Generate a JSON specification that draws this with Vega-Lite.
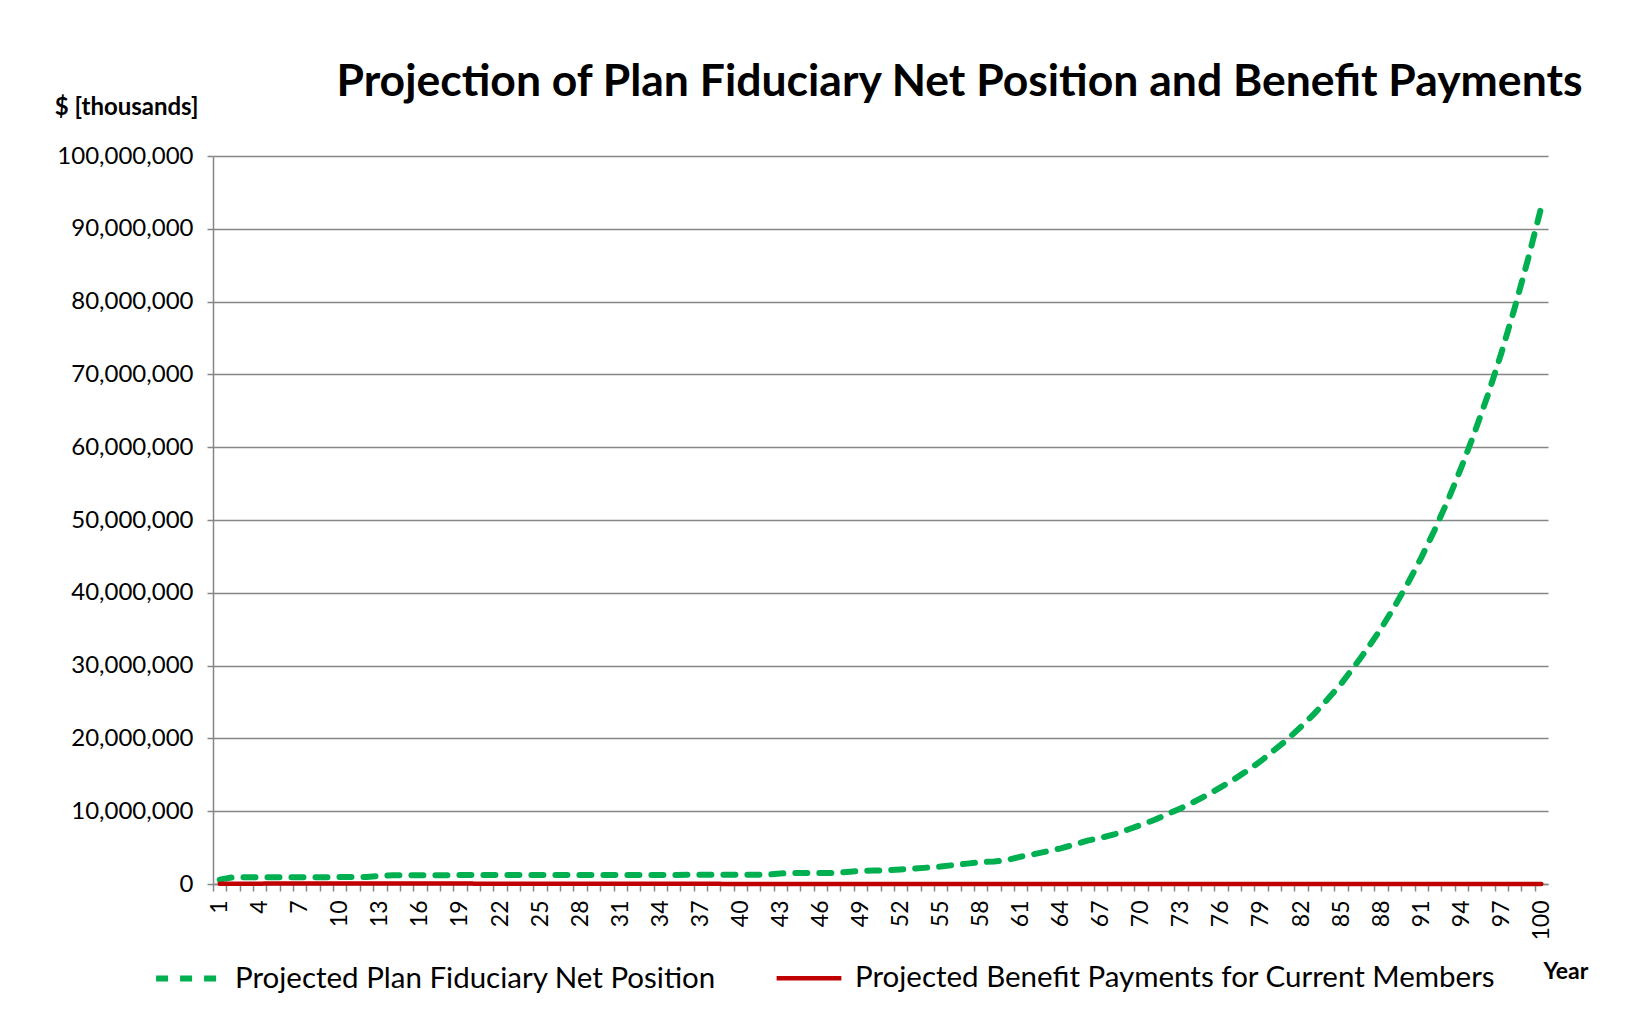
{
  "$schema": "https://vega.github.io/schema/vega-lite/v6.json",
  "width": 1335,
  "height": 728,
  "autosize": "none",
  "padding": {"left": 213, "top": 156, "right": 83, "bottom": 139},
  "background": "white",
  "title": {
    "text": "Projection of Plan Fiduciary Net Position and Benefit Payments",
    "font": "Lato", "fontSize": 44.5, "fontWeight": "bold", "color": "black",
    "anchor": "middle", "dx": 79, "baseline": "alphabetic", "offset": -45
  },
  "data": {"values": [
    {"Year":1,"net":600000,"ben":45000},{"Year":2,"net":920000,"ben":47000},{"Year":3,"net":925000,"ben":49000},{"Year":4,"net":930000,"ben":51000},{"Year":5,"net":932000,"ben":53000},
    {"Year":6,"net":935000,"ben":54000},{"Year":7,"net":938000,"ben":55000},{"Year":8,"net":940000,"ben":56000},{"Year":9,"net":943000,"ben":57000},{"Year":10,"net":945000,"ben":57500},
    {"Year":11,"net":948000,"ben":58000},{"Year":12,"net":950000,"ben":58000},{"Year":13,"net":1100000,"ben":58000},{"Year":14,"net":1210000,"ben":57500},{"Year":15,"net":1212000,"ben":57000},
    {"Year":16,"net":1214000,"ben":56000},{"Year":17,"net":1216000,"ben":55000},{"Year":18,"net":1218000,"ben":54000},{"Year":19,"net":1220000,"ben":53000},{"Year":20,"net":1222000,"ben":51500},
    {"Year":21,"net":1224000,"ben":50000},{"Year":22,"net":1226000,"ben":48500},{"Year":23,"net":1228000,"ben":47000},{"Year":24,"net":1230000,"ben":45000},{"Year":25,"net":1232000,"ben":43000},
    {"Year":26,"net":1234000,"ben":41000},{"Year":27,"net":1236000,"ben":39000},{"Year":28,"net":1238000,"ben":37000},{"Year":29,"net":1240000,"ben":35000},{"Year":30,"net":1242000,"ben":33000},
    {"Year":31,"net":1244000,"ben":31000},{"Year":32,"net":1246000,"ben":29000},{"Year":33,"net":1248000,"ben":27000},{"Year":34,"net":1250000,"ben":25000},{"Year":35,"net":1252000,"ben":23000},
    {"Year":36,"net":1254000,"ben":21000},{"Year":37,"net":1256000,"ben":19500},{"Year":38,"net":1258000,"ben":18000},{"Year":39,"net":1260000,"ben":16500},{"Year":40,"net":1262000,"ben":15000},
    {"Year":41,"net":1264000,"ben":13500},{"Year":42,"net":1266000,"ben":12000},{"Year":43,"net":1450000,"ben":11000},{"Year":44,"net":1500000,"ben":10000},{"Year":45,"net":1505000,"ben":9000},
    {"Year":46,"net":1510000,"ben":8000},{"Year":47,"net":1520000,"ben":7200},{"Year":48,"net":1650000,"ben":6400},{"Year":49,"net":1800000,"ben":5700},{"Year":50,"net":1850000,"ben":5000},
    {"Year":51,"net":1900000,"ben":4400},{"Year":52,"net":2000000,"ben":3900},{"Year":53,"net":2100000,"ben":3400},{"Year":54,"net":2250000,"ben":3000},{"Year":55,"net":2400000,"ben":2600},
    {"Year":56,"net":2600000,"ben":2300},{"Year":57,"net":2800000,"ben":2000},{"Year":58,"net":3000000,"ben":1700},{"Year":59,"net":3100000,"ben":1500},{"Year":60,"net":3300000,"ben":1300},
    {"Year":61,"net":3750000,"ben":1100},{"Year":62,"net":4100000,"ben":950},{"Year":63,"net":4500000,"ben":800},{"Year":64,"net":4900000,"ben":700},{"Year":65,"net":5400000,"ben":600},
    {"Year":66,"net":5950000,"ben":500},{"Year":67,"net":6350000,"ben":420},{"Year":68,"net":6800000,"ben":350},{"Year":69,"net":7450000,"ben":290},{"Year":70,"net":8100000,"ben":240},
    {"Year":71,"net":8800000,"ben":200},{"Year":72,"net":9600000,"ben":165},{"Year":73,"net":10400000,"ben":135},{"Year":74,"net":11300000,"ben":110},{"Year":75,"net":12250000,"ben":90},
    {"Year":76,"net":13300000,"ben":75},{"Year":77,"net":14400000,"ben":60},{"Year":78,"net":15600000,"ben":50},{"Year":79,"net":16900000,"ben":40},{"Year":80,"net":18400000,"ben":32},
    {"Year":81,"net":19900000,"ben":26},{"Year":82,"net":21600000,"ben":21},{"Year":83,"net":23400000,"ben":17},{"Year":84,"net":25400000,"ben":14},{"Year":85,"net":27500000,"ben":11},
    {"Year":86,"net":29900000,"ben":9},{"Year":87,"net":32400000,"ben":7},{"Year":88,"net":35100000,"ben":5},{"Year":89,"net":38100000,"ben":4},{"Year":90,"net":41300000,"ben":3},
    {"Year":91,"net":44800000,"ben":2},{"Year":92,"net":48600000,"ben":2},{"Year":93,"net":52700000,"ben":1},{"Year":94,"net":57200000,"ben":1},{"Year":95,"net":62000000,"ben":1},
    {"Year":96,"net":67200000,"ben":0},{"Year":97,"net":72900000,"ben":0},{"Year":98,"net":79100000,"ben":0},{"Year":99,"net":85800000,"ben":0},{"Year":100,"net":93000000,"ben":0}
  ]},
  "transform": [{"fold": ["net", "ben"], "as": ["series", "value"]}],
  "mark": {"type": "line", "strokeCap": "round", "clip": false},
  "encoding": {
    "x": {
      "field": "Year", "type": "quantitative",
      "scale": {"domain": [0.5, 100.5], "nice": false, "zero": false},
      "axis": {
        "values": [1,2,3,4,5,6,7,8,9,10,11,12,13,14,15,16,17,18,19,20,21,22,23,24,25,26,27,28,29,30,31,32,33,34,35,36,37,38,39,40,41,42,43,44,45,46,47,48,49,50,51,52,53,54,55,56,57,58,59,60,61,62,63,64,65,66,67,68,69,70,71,72,73,74,75,76,77,78,79,80,81,82,83,84,85,86,87,88,89,90,91,92,93,94,95,96,97,98,99,100,101],
        "labelExpr": "(datum.value - 1) % 3 == 0 && datum.value <= 100 ? datum.value : ''",
        "labelOverlap": false,
        "labelAngle": -90,
        "labelFontSize": 23,
        "labelPadding": 9,
        "tickOffset": -6.675,
        "labelOffset": 6.675,
        "grid": false,
        "tickSize": 7,
        "title": "Year",
        "titleAngle": 0,
        "titleAlign": "left",
        "titleBaseline": "middle",
        "titleX": 1330,
        "titleY": 87,
        "titleFontSize": 23
      }
    },
    "y": {
      "field": "value", "type": "quantitative",
      "scale": {"domain": [0, 100000000], "nice": false},
      "axis": {
        "values": [0,10000000,20000000,30000000,40000000,50000000,60000000,70000000,80000000,90000000,100000000],
        "format": ",.0f",
        "labelFontSize": 24,
        "labelPadding": 14,
        "tickSize": 6,
        "grid": true,
        "title": "$ [thousands]",
        "titleAngle": 0,
        "titleAlign": "right",
        "titleBaseline": "middle",
        "titleX": -15,
        "titleY": -49,
        "titleFontSize": 24
      }
    },
    "color": {
      "field": "series", "type": "nominal",
      "scale": {"domain": ["net", "ben"], "range": ["#00B050", "#C00000"]},
      "legend": {"labelExpr": "datum.label == 'net' ? 'Projected Plan Fiduciary Net Position' : 'Projected Benefit Payments for Current Members'", "title": null}
    },
    "strokeDash": {
      "field": "series", "type": "nominal",
      "scale": {"domain": ["net", "ben"], "range": [[12, 12], [1, 0]]},
      "legend": {"labelExpr": "datum.label == 'net' ? 'Projected Plan Fiduciary Net Position' : 'Projected Benefit Payments for Current Members'", "title": null}
    },
    "strokeWidth": {
      "field": "series", "type": "nominal",
      "scale": {"domain": ["net", "ben"], "range": [6, 4.5]},
      "legend": {"labelExpr": "datum.label == 'net' ? 'Projected Plan Fiduciary Net Position' : 'Projected Benefit Payments for Current Members'", "title": null}
    }
  },
  "config": {
    "view": {"stroke": null},
    "font": "Lato",
    "axis": {
      "labelFont": "Lato", "labelColor": "black",
      "titleFont": "Lato", "titleFontWeight": "bold", "titleColor": "black",
      "domainColor": "#868686", "domainWidth": 1.5,
      "tickColor": "#868686", "tickWidth": 1.5,
      "gridColor": "#868686", "gridWidth": 1.5, "gridOpacity": 1
    },
    "legend": {
      "orient": "none", "legendX": -60, "legendY": 787, "direction": "horizontal",
      "symbolType": "stroke", "symbolSize": 4200,
      "labelFont": "Lato", "labelFontSize": 29.5, "labelColor": "black", "labelOffset": 11,
      "columnPadding": 51, "labelLimit": 900
    }
  }
}
